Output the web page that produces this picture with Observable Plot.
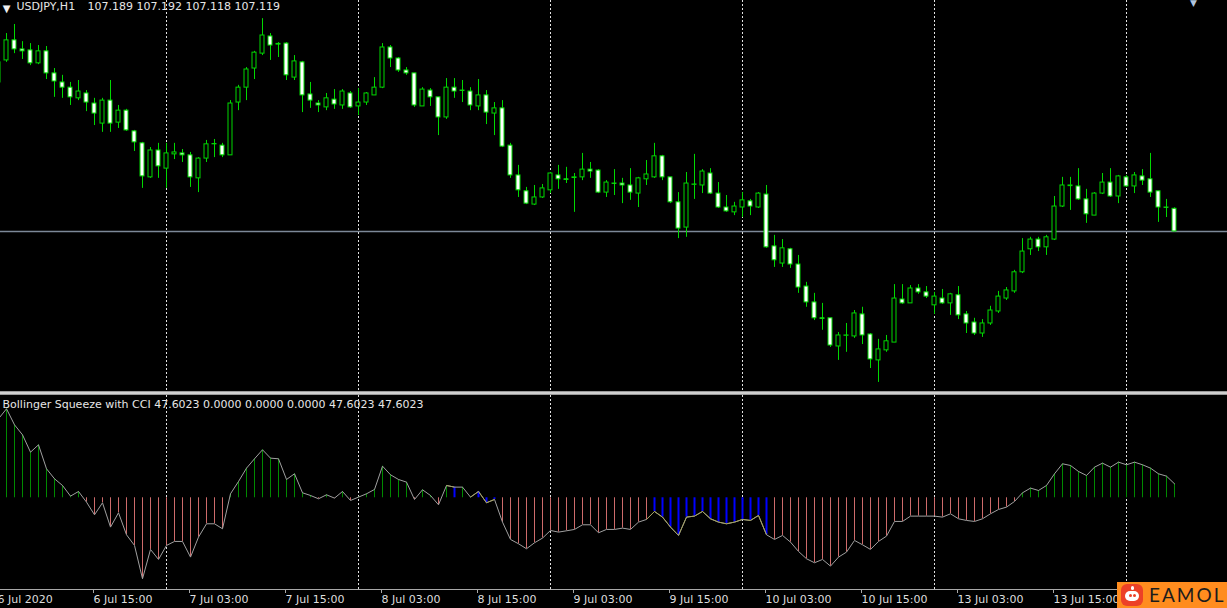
<!DOCTYPE html>
<html>
<head>
<meta charset="utf-8">
<script src="https://cdn.jsdelivr.net/npm/d3@7"></script>
<script src="https://cdn.jsdelivr.net/npm/@observablehq/plot@0.6"></script>
<style>
  html, body { margin: 0; padding: 0; background: #000; overflow: hidden; }
  #chart { position: relative; width: 1227px; height: 608px; background: #000; overflow: hidden; }
  #chart svg { display: block; }
  .pane-sep { position: absolute; left: 0; top: 391px; width: 1227px; height: 4px;
    background: linear-gradient(#7a7a7a, #cfcfcf 35%, #cfcfcf 65%, #7a7a7a); }
  .logo { position: absolute; left: 1117px; top: 582px; width: 110px; height: 26px; background: #ff8c1e; }
  .logo .ico { position: absolute; left: 4px; top: 2px; width: 22px; height: 22px; border-radius: 6px; background: #ec4127; }
  .logo .ico .head { position: absolute; left: 4px; top: 7px; width: 14px; height: 10px; border-radius: 5px; background: #fff; }
  .logo .ico .ant { position: absolute; left: 9.5px; top: 2px; width: 3px; height: 4px; border-radius: 2px; background: #fff; }
  .logo .ico .eye { position: absolute; top: 10px; width: 3px; height: 3px; border-radius: 2px; background: #ec4127; }
  .logo .txt { position: absolute; left: 32px; top: 2px; font: 400 19px/22px Lato, "Open Sans", sans-serif; letter-spacing: 2px; color: #1c1c1c; }
</style>
</head>
<body>
<div id="chart">
  <div id="top"></div>
  <div id="bottom"></div>
  <div class="pane-sep"></div>
  <div class="logo"><div class="ico"><div class="ant"></div><div class="head"></div><div class="eye" style="left:8px"></div><div class="eye" style="left:12px"></div></div><div class="txt">EAMOL</div></div>
</div>
<script>
// ---------- data ----------
const symbol = "USDJPY,H1";
const lastQuote = [107.189, 107.192, 107.118, 107.119];

const open = [
  107.579, 107.647, 107.709, 107.681, 107.678, 107.638, 107.675, 107.607, 107.579, 107.563,
  107.530, 107.545, 107.514, 107.452, 107.523, 107.455, 107.492, 107.428, 107.391, 107.286,
  107.369, 107.313, 107.357, 107.360, 107.354, 107.283, 107.344, 107.388, 107.384, 107.354,
  107.517, 107.563, 107.622, 107.668, 107.721, 107.698, 107.699, 107.594, 107.641, 107.542,
  107.514, 107.502, 107.526, 107.508, 107.545, 107.505, 107.517, 107.539, 107.563, 107.687,
  107.653, 107.616, 107.607, 107.505, 107.554, 107.533, 107.471, 107.563, 107.554, 107.551,
  107.505, 107.539, 107.483, 107.499, 107.384, 107.292, 107.243, 107.202, 107.224, 107.246,
  107.292, 107.280, 107.284, 107.286, 107.310, 107.307, 107.239, 107.267, 107.267, 107.261,
  107.236, 107.280, 107.286, 107.351, 107.286, 107.209, 107.131, 107.263, 107.261, 107.298,
  107.236, 107.193, 107.178, 107.193, 107.212, 107.193, 107.233, 107.073, 107.020, 107.064,
  107.017, 106.949, 106.900, 106.851, 106.851, 106.764, 106.797, 106.795, 106.863, 106.801,
  106.721, 106.752, 106.776, 106.909, 106.897, 106.943, 106.931, 106.891, 106.912, 106.897,
  106.922, 106.863, 106.838, 106.804, 106.835, 106.872, 106.912, 106.934, 106.993, 107.064,
  107.094, 107.070, 107.094, 107.196, 107.259, 107.258, 107.218, 107.168, 107.236, 107.270,
  107.227, 107.286, 107.258, 107.289, 107.280, 107.243, 107.193, 107.189
];
const high = [
  107.653, 107.730, 107.758, 107.705, 107.699, 107.693, 107.690, 107.622, 107.601, 107.579,
  107.585, 107.554, 107.530, 107.530, 107.585, 107.508, 107.496, 107.431, 107.394, 107.378,
  107.391, 107.391, 107.391, 107.372, 107.363, 107.347, 107.400, 107.403, 107.391, 107.523,
  107.570, 107.625, 107.675, 107.776, 107.730, 107.702, 107.702, 107.662, 107.644, 107.579,
  107.523, 107.545, 107.557, 107.557, 107.551, 107.560, 107.548, 107.594, 107.699, 107.693,
  107.656, 107.625, 107.607, 107.563, 107.560, 107.533, 107.591, 107.591, 107.585, 107.563,
  107.588, 107.554, 107.517, 107.523, 107.391, 107.323, 107.255, 107.261, 107.264, 107.301,
  107.323, 107.317, 107.298, 107.360, 107.332, 107.310, 107.276, 107.310, 107.283, 107.313,
  107.286, 107.338, 107.391, 107.354, 107.286, 107.239, 107.301, 107.357, 107.310, 107.313,
  107.270, 107.230, 107.209, 107.239, 107.218, 107.239, 107.261, 107.107, 107.094, 107.067,
  107.045, 106.962, 106.928, 106.897, 106.851, 106.807, 106.835, 106.875, 106.885, 106.804,
  106.786, 106.798, 106.955, 106.955, 106.952, 106.955, 106.949, 106.931, 106.940, 106.928,
  106.949, 106.872, 106.851, 106.847, 106.888, 106.934, 106.946, 106.999, 107.097, 107.101,
  107.101, 107.107, 107.227, 107.286, 107.286, 107.313, 107.249, 107.239, 107.298, 107.313,
  107.292, 107.292, 107.301, 107.310, 107.360, 107.243, 107.218, 107.192
];
const low = [
  107.570, 107.641, 107.668, 107.650, 107.631, 107.634, 107.588, 107.533, 107.530, 107.508,
  107.523, 107.489, 107.446, 107.425, 107.425, 107.437, 107.428, 107.366, 107.252, 107.283,
  107.283, 107.252, 107.341, 107.332, 107.255, 107.239, 107.332, 107.347, 107.347, 107.354,
  107.492, 107.523, 107.588, 107.662, 107.647, 107.656, 107.585, 107.585, 107.486, 107.499,
  107.486, 107.492, 107.496, 107.496, 107.499, 107.477, 107.508, 107.539, 107.560, 107.625,
  107.610, 107.601, 107.502, 107.505, 107.505, 107.415, 107.465, 107.530, 107.517, 107.492,
  107.492, 107.449, 107.415, 107.378, 107.283, 107.224, 107.202, 107.199, 107.221, 107.236,
  107.249, 107.267, 107.178, 107.276, 107.283, 107.236, 107.224, 107.230, 107.205, 107.215,
  107.193, 107.261, 107.283, 107.276, 107.205, 107.097, 107.101, 107.218, 107.236, 107.233,
  107.190, 107.178, 107.168, 107.162, 107.168, 107.190, 107.067, 107.008, 107.008, 107.005,
  106.928, 106.885, 106.844, 106.814, 106.761, 106.721, 106.746, 106.789, 106.770, 106.696,
  106.653, 106.746, 106.776, 106.894, 106.897, 106.925, 106.912, 106.863, 106.894, 106.860,
  106.847, 106.804, 106.798, 106.792, 106.829, 106.866, 106.906, 106.928, 106.989, 107.045,
  107.057, 107.045, 107.091, 107.193, 107.184, 107.215, 107.144, 107.168, 107.233, 107.224,
  107.205, 107.255, 107.236, 107.261, 107.224, 107.147, 107.162, 107.118
];
const close = [
  107.641, 107.709, 107.681, 107.675, 107.638, 107.675, 107.607, 107.582, 107.563, 107.533,
  107.551, 107.517, 107.483, 107.523, 107.452, 107.492, 107.431, 107.394, 107.289, 107.369,
  107.320, 107.360, 107.363, 107.354, 107.286, 107.344, 107.388, 107.389, 107.354, 107.514,
  107.563, 107.619, 107.671, 107.724, 107.693, 107.696, 107.601, 107.644, 107.539, 107.523,
  107.508, 107.530, 107.511, 107.551, 107.502, 107.517, 107.545, 107.563, 107.687, 107.653,
  107.616, 107.607, 107.508, 107.557, 107.533, 107.471, 107.563, 107.551, 107.553, 107.508,
  107.539, 107.486, 107.499, 107.381, 107.292, 107.246, 107.205, 107.224, 107.252, 107.298,
  107.280, 107.278, 107.286, 107.310, 107.304, 107.239, 107.270, 107.266, 107.261, 107.239,
  107.283, 107.295, 107.351, 107.286, 107.209, 107.128, 107.267, 107.264, 107.304, 107.236,
  107.193, 107.181, 107.196, 107.215, 107.196, 107.236, 107.070, 107.030, 107.067, 107.017,
  106.946, 106.900, 106.851, 106.849, 106.767, 106.798, 106.798, 106.866, 106.798, 106.724,
  106.755, 106.780, 106.912, 106.897, 106.943, 106.931, 106.918, 106.918, 106.897, 106.925,
  106.860, 106.835, 106.804, 106.835, 106.875, 106.918, 106.937, 106.993, 107.057, 107.094,
  107.070, 107.101, 107.196, 107.261, 107.261, 107.218, 107.172, 107.236, 107.270, 107.227,
  107.289, 107.258, 107.292, 107.276, 107.239, 107.193, 107.192, 107.119
];

const indicatorName = "Bollinger Squeeze with CCI";
const indicatorValues = ["47.6023", "0.0000", "0.0000", "0.0000", "47.6023", "47.6023"];
const cci = [
  268.6, 302.5, 248.1, 214.1, 155.2, 180.1, 98.6, 64.6, 41.9, 5.7,
  21.5, -14.7, -57.8, -17.0, -99.7, -51.0, -125.8, -162.0, -275.3, -175.6,
  -209.6, -162.0, -148.4, -148.4, -201.7, -133.7, -88.4, -88.4, -105.4, 13.6,
  55.5, 100.8, 132.6, 163.2, 134.8, 132.6, 62.3, 81.6, 17.0, 7.9,
  -3.4, 10.2, -1.1, 21.5, -9.1, 2.3, 13.6, 28.3, 107.6, 78.2,
  62.3, 53.3, -5.7, 27.2, 7.9, -23.8, 41.9, 36.3, 36.3, 2.3,
  21.5, -17.0, -5.7, -82.7, -141.6, -156.4, -173.3, -153.0, -137.1, -111.0,
  -116.7, -112.2, -107.6, -91.8, -91.8, -119.0, -107.6, -107.6, -103.1, -107.6,
  -82.7, -73.6, -46.5, -65.7, -99.7, -128.0, -65.7, -62.3, -46.5, -71.4,
  -82.7, -88.4, -82.7, -73.6, -77.0, -60.0, -125.8, -141.6, -128.0, -150.7,
  -182.4, -207.3, -220.9, -209.6, -232.3, -201.7, -184.7, -145.0, -159.8, -175.6,
  -148.4, -130.3, -80.4, -80.4, -62.3, -62.3, -62.3, -62.3, -65.7, -54.4,
  -71.4, -77.0, -80.4, -71.4, -54.4, -39.7, -31.7, -12.5, 17.0, 32.9,
  24.9, 41.9, 81.6, 115.6, 109.9, 89.5, 75.9, 104.2, 117.8, 104.2,
  121.2, 112.2, 121.2, 112.2, 100.8, 81.6, 73.6, 47.6
];
const squeezeBars = [57, 60, 61, 62, 82, 83, 84, 85, 86, 87, 88, 89, 90, 91, 92, 93, 94, 95, 96];

const tickBars = [0, 12, 24, 36, 48, 60, 72, 84, 96, 108, 120, 132];
const tickLabels = ["6 Jul 2020", "6 Jul 15:00", "7 Jul 03:00", "7 Jul 15:00", "8 Jul 03:00", "8 Jul 15:00",
  "9 Jul 03:00", "9 Jul 15:00", "10 Jul 03:00", "10 Jul 15:00", "13 Jul 03:00", "13 Jul 15:00"];
const separatorBars = [21, 45, 69, 93, 117, 141];

// ---------- table ----------
const bars = open.map((o, i) => ({
  i, o, h: high[i], l: low[i], c: close[i], v: cci[i], sq: squeezeBars.includes(i)
}));
const prevOf = d => bars[d.i - 1];

// ---------- styles ----------
const W = 1227;
const xDomain = [0.25, 153.625];
const candleGreen = "#00d800";
const font = "'DejaVu Sans', sans-serif";
const baseStyle = { background: "#000", color: "#dedede", fontFamily: font, fontSize: "11px" };

const topPlot = Plot.plot({
  width: W, height: 391, margin: 0,
  x: { domain: xDomain, axis: null },
  y: { domain: [106.625, 107.832], axis: null },
  color: { type: "identity" },
  style: baseStyle,
  marks: [
    Plot.ruleY([lastQuote[3]], { stroke: "#7c8898", strokeWidth: 1.5 }),
    Plot.ruleX(separatorBars, { x: d => d, stroke: "#e2e2e2", strokeDasharray: "2,2" }),
    Plot.ruleX(bars, { x: "i", y1: "l", y2: "h", stroke: candleGreen }),
    Plot.rect(bars, {
      x1: d => d.i - 0.25, x2: d => d.i + 0.25, y1: "o", y2: "c",
      fill: d => (d.c > d.o ? "#000000" : "#ffffff"), stroke: candleGreen, strokeWidth: 1
    }),
    Plot.text(["▼"], { text: d => d, frameAnchor: "top-left", dx: 6, dy: 8.5, textAnchor: "middle", lineAnchor: "middle", fontSize: 10, fill: "#f0f0f0" }),
    Plot.text([symbol], { text: d => d, frameAnchor: "top-left", dx: 16, dy: 2, textAnchor: "start", lineAnchor: "top", fontSize: 11, fill: "#e6e6e6" }),
    Plot.text([lastQuote.map(v => v.toFixed(3)).join(" ")], { text: d => d, frameAnchor: "top-left", dx: 87, dy: 2, textAnchor: "start", lineAnchor: "top", fontSize: 11, fill: "#e6e6e6" }),
    Plot.text(["▼"], { text: d => d, frameAnchor: "top-right", dx: -34, dy: 2.5, textAnchor: "middle", lineAnchor: "middle", fontSize: 9, fill: "#b0c4de" })
  ]
});

const bottomPlot = Plot.plot({
  width: W, height: 217, marginTop: 0, marginLeft: 0, marginRight: 0, marginBottom: 19,
  x: { domain: xDomain, axis: null, label: null },
  y: { domain: [-311.8, 361.4], axis: null },
  color: { type: "identity" },
  style: baseStyle,
  marks: [
    Plot.ruleX(separatorBars, { x: d => d, stroke: "#e2e2e2", strokeDasharray: "2,2" }),
    Plot.ruleX(bars.filter(d => !d.sq), { x: "i", y1: 0, y2: "v", stroke: d => (d.v >= 0 ? "#008a00" : "#cd6b6b") }),
    Plot.ruleX(bars.filter(d => d.sq), { x: "i", y1: 0, y2: "v", stroke: "#0000ff", strokeWidth: 2 }),
    Plot.line(bars, { x: "i", y: "v", stroke: "#a0a0a0", strokeWidth: 1 }),
    Plot.link(bars.filter(d => d.sq && d.i > 0), {
      x1: d => prevOf(d).i, y1: d => prevOf(d).v, x2: "i", y2: "v", stroke: "#a3a060", strokeWidth: 1
    }),
    Plot.frame({ anchor: "bottom", stroke: "#a8a8a8" }),
    Plot.axisX(tickBars, {
      anchor: "bottom", label: null, tickSize: 4, tickPadding: 2,
      tickFormat: d => tickLabels[tickBars.indexOf(d)],
      textAnchor: "start", dx: -1, fontSize: 11, stroke: "#a8a8a8", fill: "#dedede"
    }),
    Plot.text([indicatorName + " " + indicatorValues.join(" ")], {
      text: d => d, frameAnchor: "top-left", dx: 2, dy: 9, textAnchor: "start", lineAnchor: "top", fontSize: 11, fill: "#e6e6e6"
    })
  ]
});

document.getElementById("top").appendChild(topPlot);
document.getElementById("bottom").appendChild(bottomPlot);
</script>
</body>
</html>
